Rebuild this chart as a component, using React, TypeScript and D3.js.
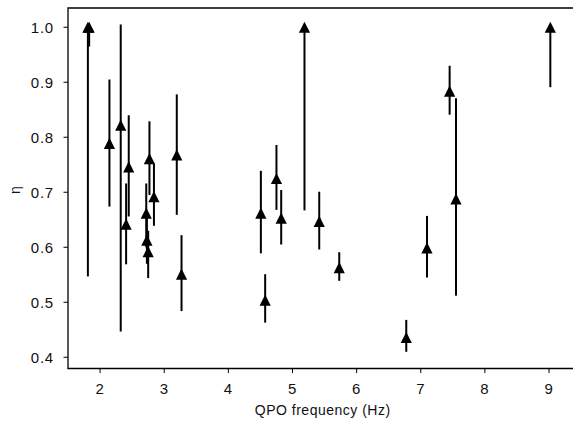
import React from "react";
import * as d3 from "d3";

const freq = [1.81, 1.83, 2.146, 2.322, 2.447, 2.406, 2.77, 2.84, 2.72, 2.73, 2.75, 3.196, 3.27, 4.507, 4.574, 4.75, 4.824, 5.187, 5.417, 5.729, 6.774, 7.097, 7.45, 7.549, 9.02];
const eta = [1.0, 1.0, 0.789, 0.822, 0.746, 0.642, 0.761, 0.692, 0.662, 0.613, 0.592, 0.768, 0.551, 0.662, 0.504, 0.725, 0.653, 1.0, 0.647, 0.563, 0.436, 0.599, 0.884, 0.688, 1.0];
const etaLo = [0.547, 0.965, 0.674, 0.447, 0.656, 0.569, 0.695, 0.639, 0.6, 0.57, 0.544, 0.659, 0.484, 0.589, 0.463, 0.668, 0.605, 0.667, 0.596, 0.539, 0.41, 0.545, 0.841, 0.512, 0.891];
const etaHi = [1.0, 1.0, 0.905, 1.005, 0.84, 0.716, 0.829, 0.752, 0.716, 0.66, 0.63, 0.878, 0.622, 0.739, 0.551, 0.786, 0.704, 1.0, 0.701, 0.591, 0.468, 0.657, 0.93, 0.871, 1.0];
const xTicks = [2, 3, 4, 5, 6, 7, 8, 9];
const yTicks = [0.4, 0.5, 0.6, 0.7, 0.8, 0.9, 1.0];

const W = 573;
const H = 426;
const L = 68, R = 574.7, T = 8, B = 368.5;

export default function App() {
  const x = d3.scaleLinear().domain([1.5, 9.4]).range([L, R]);
  const y = d3.scaleLinear().domain([0.3796, 1.035]).range([B, T]);
  const font = "'Liberation Sans', Arial, sans-serif";
  const s = 5.6;
  const tri = (cx: number, cy: number) =>
    `M${cx},${cy - s}L${cx - s},${cy + s}L${cx + s},${cy + s}Z`;
  return (
    <svg width={W} height={H} style={{ position: "absolute", left: 0, top: 0, background: "#fff" }}>
      <rect x={0} y={0} width={W} height={H} fill="#fff" />
      <g>
        {freq.map((f, i) => (
          <g key={i}>
            <line x1={x(f)} x2={x(f)} y1={y(etaLo[i])} y2={y(etaHi[i])} stroke="#000" strokeWidth={2} />
            <path d={tri(x(f), y(eta[i]))} fill="#000" />
          </g>
        ))}
      </g>
      <path d={`M${R},${T}H${L}V${B}H${R}`} fill="none" stroke="#000" strokeWidth={1.3} />
      {xTicks.map((t) => (
        <g key={t} transform={`translate(${x(t)},${B})`}>
          <line y1={0} y2={4.5} stroke="#000" strokeWidth={1} />
          <text y={25} textAnchor="middle" fontFamily={font} fontSize={15} letterSpacing={0.8} fill="#111">{t}</text>
        </g>
      ))}
      {yTicks.map((t) => (
        <g key={t} transform={`translate(${L},${y(t)})`}>
          <line x1={0} x2={-4.5} stroke="#000" strokeWidth={1} />
          <text x={-14} dy="0.36em" textAnchor="end" fontFamily={font} fontSize={15} letterSpacing={0.8} fill="#111">{d3.format(".1f")(t)}</text>
        </g>
      ))}
      <text x={(L + 573.4) / 2 + 2} y={415} textAnchor="middle" fontFamily={font} fontSize={14} letterSpacing={0.5} fill="#111">QPO frequency (Hz)</text>
      <text transform={`translate(20,190) rotate(-90)`} textAnchor="middle" fontFamily={font} fontSize={14} fill="#111">η</text>
    </svg>
  );
}
